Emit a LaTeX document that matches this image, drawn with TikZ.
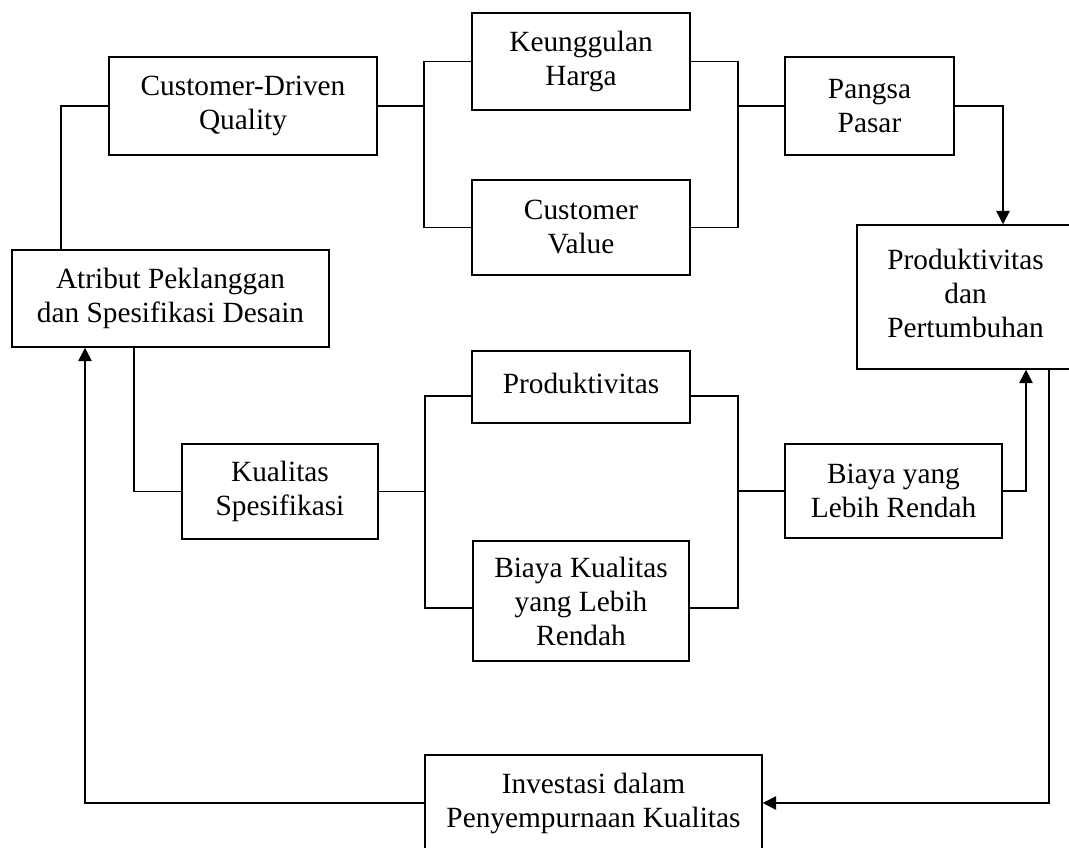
\documentclass[tikz,border=0pt]{standalone}
\usepackage{fontspec}
\setmainfont{Liberation Serif}
\usetikzlibrary{arrows.meta}
\tikzset{
  box/.style={draw, line width=1.1pt, inner sep=0pt, align=center,
    font=\fontsize{22}{25.5}\selectfont},
  ln/.style={line width=1.1pt},
  arr/.style={ln, -{Triangle[width=10pt,length=10pt]}}
}
\begin{document}
\begin{tikzpicture}[x=0.75pt,y=-0.75pt]
\useasboundingbox (0,0) rectangle (1069,847);
\begin{scope}
\clip (0,0) rectangle (1069,847);
% boxes
\node[box, minimum width=201pt, minimum height=73.5pt] (cdq) at (243,106) {Customer-Driven\\Quality};
\node[box, minimum width=163.5pt, minimum height=72.75pt] (kh) at (581,61.5) {Keunggulan\\Harga};
\node[box, minimum width=163.5pt, minimum height=71.25pt] (cv) at (581,227.5) {Customer\\Value};
\node[box, minimum width=126.75pt, minimum height=73.5pt] (pg) at (869.5,106) {Pangsa\\Pasar};
\node[box, minimum width=162.75pt, minimum height=108pt] (pp) at (965.5,297) {\raisebox{7pt}{\begin{tabular}{@{}c@{}}Produktivitas\\dan\\Pertumbuhan\end{tabular}}};
\node[box, minimum width=237.75pt, minimum height=72.75pt] (atr) at (170.5,298.5) {Atribut Peklanggan\\dan Spesifikasi Desain};
\node[box, minimum width=163.5pt, minimum height=54pt] (prod) at (581,387) {\raisebox{5pt}{Produktivitas}};
\node[box, minimum width=147pt, minimum height=71.25pt] (ks) at (280,491.5) {Kualitas\\Spesifikasi};
\node[box, minimum width=162.75pt, minimum height=70.5pt] (by) at (893.5,491) {Biaya yang\\Lebih Rendah};
\node[box, minimum width=162pt, minimum height=90pt] (bk) at (581,601) {Biaya Kualitas\\yang Lebih\\Rendah};
\node[box, minimum width=252.75pt, minimum height=72pt] (inv) at (593.5,803) {Investasi dalam\\Penyempurnaan Kualitas};
% helper coordinates
\coordinate (bA) at (424,0);
\coordinate (bB) at (738,0);
\coordinate (bC) at (425,0);
\coordinate (xP) at (1003,0);
\coordinate (xL) at (61,0);
\coordinate (xD) at (134,0);
\coordinate (xU) at (1026,0);
\coordinate (xR) at (1049,0);
\coordinate (xF) at (85,0);
\coordinate (yProd) at (0,396);
\coordinate (yBK) at (0,608);
% connectors
\draw[ln] (cdq.west) -| (xL |- atr.north);
\draw[ln] (cdq.east) -- (cdq.east -| bA);
\draw[ln] (kh.west) -| (bA |- cv.west) -- (cv.west);
\draw[ln] (kh.east) -| (bB |- cv.east) -- (cv.east);
\draw[ln] (bB |- pg.west) -- (pg.west);
\draw[arr] (pg.east) -| (xP |- pp.north);
\draw[ln] (xD |- atr.south) |- (ks.west);
\draw[ln] (ks.east) -- (ks.east -| bC);
\draw[ln] (prod.west |- yProd) -| (bC |- yBK) -- (bk.west |- yBK);
\draw[ln] (prod.east |- yProd) -| (bB |- yBK) -- (bk.east |- yBK);
\draw[ln] (bB |- by.west) -- (by.west);
\draw[arr] (by.east) -| (xU |- pp.south);
\draw[arr] (xR |- pp.south) |- (inv.east);
\draw[arr] (inv.west) -| (xF |- atr.south);
\end{scope}
\end{tikzpicture}
\end{document}
